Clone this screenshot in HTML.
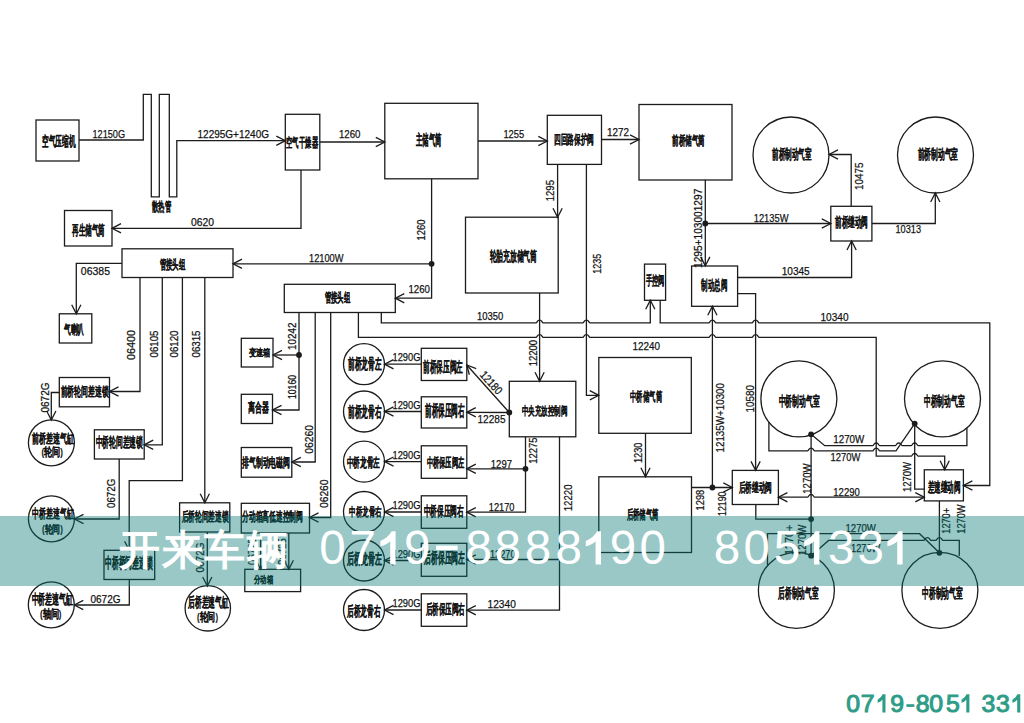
<!DOCTYPE html>
<html><head><meta charset="utf-8">
<style>
html,body{margin:0;padding:0;background:#fff;}
body{width:1024px;height:723px;overflow:hidden;position:relative;font-family:"Liberation Sans",sans-serif;}
svg{position:absolute;left:0;top:0;}
.d path,.d rect,.d circle{fill:none;stroke:#1c1c1c;stroke-width:1.3;}
text.n{font-family:"Liberation Sans",sans-serif;fill:#111;stroke:#111;stroke-width:0.25px;}
text.c{font-family:"Liberation Sans",sans-serif;font-weight:900;fill:#111;stroke:#111;stroke-width:0.12px;}
#band{position:absolute;left:0;top:516px;width:1024px;height:70px;background:rgba(0,118,114,0.4);}
.wm{position:absolute;color:#fff;font-family:"Liberation Sans",sans-serif;white-space:nowrap;}
#ph{position:absolute;left:846px;top:686px;font-family:"Liberation Sans",sans-serif;font-weight:bold;color:#2f9c88;font-size:28.5px;letter-spacing:-1.1px;white-space:nowrap;}
</style></head><body>
<svg class="d" width="1024" height="723" viewBox="0 0 1024 723">
<rect x="36" y="120" width="43" height="41"/>
<path d="M79 140 L143.3 140 L143.3 94.3 L151.3 94.3 L151.3 196.8 L159.3 196.8 L159.3 94.3 L169.3 94.3 L169.3 196.8 L176.8 196.8 L176.8 140.7 L285.3 140.7"/>
<path d="M276.3 145.3 L285.3 140.7 L276.3 136.1"/>
<rect x="285.3" y="114.3" width="34.5" height="55.7"/>
<path d="M319.8 142 L384.8 142"/>
<path d="M375.8 146.6 L384.8 142 L375.8 137.4"/>
<rect x="384.8" y="103.3" width="93.2" height="75.5"/>
<path d="M301 170 L301 228.3 L112 228.3"/>
<path d="M121 223.7 L112 228.3 L121 232.9"/>
<rect x="64.5" y="210.5" width="47.5" height="35.5"/>
<path d="M478 141 L547.3 141"/>
<path d="M538.3 145.6 L547.3 141 L538.3 136.4"/>
<rect x="547.3" y="115.3" width="54.2" height="49.1"/>
<path d="M601.5 139.5 L639 139.5"/>
<path d="M630 144.1 L639 139.5 L630 134.9"/>
<rect x="639" y="104.5" width="93" height="75.5"/>
<circle cx="791" cy="155" r="38"/>
<circle cx="935.5" cy="155" r="38"/>
<path d="M705.3 179.8 L705.3 265.9"/>
<path d="M700.7 256.9 L705.3 265.9 L709.9 256.9"/>
<circle cx="705.3" cy="223.5" r="2.9" style="fill:#1c1c1c;stroke:none"/>
<path d="M705.3 223.5 L830.8 223.5"/>
<path d="M821.8 228.1 L830.8 223.5 L821.8 218.9"/>
<rect x="830.8" y="206.3" width="41.1" height="34.7"/>
<path d="M851.2 206.3 L851.2 154.5 L829 154.5"/>
<path d="M838 149.9 L829 154.5 L838 159.1"/>
<path d="M871.9 223.5 L935.3 223.5 L935.3 193"/>
<path d="M939.9 202 L935.3 193 L930.7 202"/>
<rect x="691.6" y="266" width="46" height="40.3"/>
<path d="M737.6 277.5 L851.6 277.5 L851.6 241"/>
<path d="M856.2 250 L851.6 241 L847 250"/>
<rect x="465.5" y="217.2" width="92.7" height="75.8"/>
<path d="M557.6 164.4 L557.6 217.2"/>
<path d="M553 208.2 L557.6 217.2 L562.2 208.2"/>
<path d="M431.6 178.8 L431.6 298.2 L395.3 298.2"/>
<path d="M404.3 293.6 L395.3 298.2 L404.3 302.8"/>
<circle cx="431.6" cy="263.8" r="2.9" style="fill:#1c1c1c;stroke:none"/>
<path d="M431.6 263.8 L233 263.8"/>
<path d="M242 259.2 L233 263.8 L242 268.4"/>
<rect x="122" y="248.8" width="111" height="28.7"/>
<path d="M122 263.3 L76.3 263.3 L76.3 313.8"/>
<path d="M71.7 304.8 L76.3 313.8 L80.9 304.8"/>
<rect x="59.3" y="313.8" width="32.5" height="29.2"/>
<path d="M140 277.5 L140 391.5 L109.5 391.5"/>
<path d="M118.5 386.9 L109.5 391.5 L118.5 396.1"/>
<path d="M162.3 277.5 L162.3 444.8 L144.2 444.8"/>
<path d="M153.2 440.2 L144.2 444.8 L153.2 449.4"/>
<path d="M182.4 277.5 L182.4 480.7 L129.2 480.7 L129.2 550.3"/>
<path d="M124.6 541.3 L129.2 550.3 L133.8 541.3"/>
<path d="M204.8 277.5 L204.8 502.8"/>
<path d="M200.2 493.8 L204.8 502.8 L209.4 493.8"/>
<rect x="59.3" y="377.5" width="50.2" height="29.3"/>
<path d="M59.3 392.5 L51.3 392.5 L51.3 420"/>
<path d="M46.7 411 L51.3 420 L55.9 411"/>
<circle cx="51.4" cy="442.8" r="23"/>
<rect x="94.4" y="429.8" width="49.8" height="29.2"/>
<path d="M119.2 459 L119.2 519 L74.5 519"/>
<path d="M83.5 514.4 L74.5 519 L83.5 523.6"/>
<circle cx="51.4" cy="518.8" r="23"/>
<rect x="104" y="550.3" width="50.7" height="29.2"/>
<path d="M129.3 579.5 L129.3 605 L74.3 605"/>
<path d="M83.3 600.4 L74.3 605 L83.3 609.6"/>
<circle cx="51.3" cy="604.8" r="23"/>
<rect x="179.6" y="502.8" width="50.2" height="29.2"/>
<path d="M207.3 532 L207.3 586"/>
<path d="M202.7 577 L207.3 586 L211.9 577"/>
<circle cx="207.8" cy="608.3" r="22.7"/>
<rect x="241.3" y="338.3" width="31.7" height="28.7"/>
<rect x="241.3" y="394.3" width="31.2" height="29.2"/>
<rect x="284.3" y="284.3" width="111" height="28.2"/>
<path d="M299 312.5 L299 410 L272.5 410"/>
<path d="M281.5 405.4 L272.5 410 L281.5 414.6"/>
<circle cx="299" cy="355" r="2.9" style="fill:#1c1c1c;stroke:none"/>
<path d="M299 355 L273 355"/>
<path d="M282 350.4 L273 355 L282 359.6"/>
<path d="M315.2 312.5 L315.2 462 L291.8 462"/>
<path d="M300.8 457.4 L291.8 462 L300.8 466.6"/>
<rect x="241.3" y="447.5" width="50.5" height="29.7"/>
<path d="M330.7 312.5 L330.7 517.5 L309.5 517.5"/>
<path d="M318.5 512.9 L309.5 517.5 L318.5 522.1"/>
<rect x="241.3" y="503.3" width="68.2" height="29.7"/>
<path d="M260.6 533 L260.6 569.3"/>
<path d="M256 560.3 L260.6 569.3 L265.2 560.3"/>
<path d="M288.8 533 L288.8 569.3"/>
<path d="M284.2 560.3 L288.8 569.3 L293.4 560.3"/>
<rect x="244.8" y="569.3" width="55.8" height="22.3"/>
<path d="M358.4 312.5 L358.4 337.4 L536 337.4 C537.2 337.4 537 334.7 539.6 334.7 C542.2 334.7 542 337.4 543.2 337.4 L582.8 337.4 C584 337.4 583.8 334.7 586.4 334.7 C589 334.7 588.8 337.4 590 337.4 L708.8 337.4 C710 337.4 709.8 334.7 712.4 334.7 C715 334.7 714.8 337.4 716 337.4 L752 337.4 C753.2 337.4 753 334.7 755.6 334.7 C758.2 334.7 758 337.4 759.2 337.4 L876.2 337.4 L876.2 456.2  L911.1 456.2 C912.3 456.2 912.1 453.5 914.7 453.5 C917.3 453.5 917.1 456.2 918.3 456.2 L944.7 456.2 L944.7 469.8"/>
<path d="M940.1 460.8 L944.7 469.8 L949.3 460.8"/>
<path d="M381.3 312.5 L381.3 322.8  L536 322.8 C537.2 322.8 537 320.1 539.6 320.1 C542.2 320.1 542 322.8 543.2 322.8 L582.8 322.8 C584 322.8 583.8 320.1 586.4 320.1 C589 320.1 588.8 322.8 590 322.8 L650.3 322.8 L650.3 300.3"/>
<path d="M654.9 309.3 L650.3 300.3 L645.7 309.3"/>
<path d="M660.2 300.3 L660.2 322.8  L708.8 322.8 C710 322.8 709.8 320.1 712.4 320.1 C715 320.1 714.8 322.8 716 322.8 L752 322.8 C753.2 322.8 753 320.1 755.6 320.1 C758.2 320.1 758 322.8 759.2 322.8 L989.8 322.8 L989.8 485.5 L963.4 485.5"/>
<path d="M972.4 480.9 L963.4 485.5 L972.4 490.1"/>
<rect x="644.5" y="264.1" width="21.1" height="36.2"/>
<path d="M586.4 164.4 L586.4 395.3 L598.8 395.3"/>
<path d="M589.8 399.9 L598.8 395.3 L589.8 390.7"/>
<path d="M539.6 293 L539.6 381.3"/>
<path d="M535 372.3 L539.6 381.3 L544.2 372.3"/>
<rect x="598.8" y="357.5" width="92.5" height="75.8"/>
<rect x="509.3" y="381.3" width="66.5" height="55.5"/>
<circle cx="364" cy="364.2" r="20.5"/>
<path d="M421.3 364.2 L384.5 364.2"/>
<path d="M393.5 359.6 L384.5 364.2 L393.5 368.8"/>
<rect x="421.3" y="348.3" width="45.5" height="32.2"/>
<circle cx="364" cy="411.5" r="20.5"/>
<path d="M421.3 411.5 L384.5 411.5"/>
<path d="M393.5 406.9 L384.5 411.5 L393.5 416.1"/>
<rect x="421.3" y="396.8" width="45.5" height="31.2"/>
<circle cx="364" cy="461.6" r="20.5"/>
<path d="M421.3 461.6 L384.5 461.6"/>
<path d="M393.5 457 L384.5 461.6 L393.5 466.2"/>
<rect x="421.3" y="445.8" width="45.5" height="32.5"/>
<circle cx="364" cy="512" r="20.5"/>
<path d="M421.3 512 L384.5 512"/>
<path d="M393.5 507.4 L384.5 512 L393.5 516.6"/>
<rect x="421.3" y="495.8" width="45.5" height="32.5"/>
<circle cx="364" cy="560.5" r="20.5"/>
<path d="M421.3 560.5 L384.5 560.5"/>
<path d="M393.5 555.9 L384.5 560.5 L393.5 565.1"/>
<rect x="421.3" y="543.3" width="45.5" height="33"/>
<circle cx="364" cy="610" r="20.5"/>
<path d="M421.3 610 L384.5 610"/>
<path d="M393.5 605.4 L384.5 610 L393.5 614.6"/>
<rect x="421.3" y="593.8" width="45.5" height="32.5"/>
<circle cx="509.3" cy="412.5" r="2.9" style="fill:#1c1c1c;stroke:none"/>
<path d="M509.3 412.5 L466.8 365"/>
<path d="M476.23 368.64 L466.8 365 L469.37 374.77"/>
<path d="M509.3 412.5 L466.8 412.3"/>
<path d="M475.8 407.7 L466.8 412.3 L475.8 416.9"/>
<path d="M525.5 436.8 L525.5 512.2 L466.8 512.2"/>
<path d="M475.8 507.6 L466.8 512.2 L475.8 516.8"/>
<circle cx="525.5" cy="468.8" r="2.9" style="fill:#1c1c1c;stroke:none"/>
<path d="M525.5 468.8 L466.8 468.8"/>
<path d="M475.8 464.2 L466.8 468.8 L475.8 473.4"/>
<path d="M559.5 436.8 L559.5 610.2 L466.8 610.2"/>
<path d="M475.8 605.6 L466.8 610.2 L475.8 614.8"/>
<path d="M559.5 559.5 L466.8 559.5"/>
<path d="M475.8 554.9 L466.8 559.5 L475.8 564.1"/>
<path d="M645.5 433.3 L645.5 476.8"/>
<path d="M640.9 467.8 L645.5 476.8 L650.1 467.8"/>
<rect x="598.8" y="476.8" width="92.7" height="75.7"/>
<path d="M691.5 487.5 L732.3 487.5"/>
<path d="M723.3 492.1 L732.3 487.5 L723.3 482.9"/>
<circle cx="712.4" cy="487.5" r="2.9" style="fill:#1c1c1c;stroke:none"/>
<path d="M712.4 487.5 L712.4 306.3"/>
<path d="M717 315.3 L712.4 306.3 L707.8 315.3"/>
<path d="M737.6 293.6 L755.6 293.6 L755.6 470.4"/>
<path d="M751 461.4 L755.6 470.4 L760.2 461.4"/>
<rect x="732.3" y="470.4" width="46.1" height="34.1"/>
<path d="M778.4 497.2 L807.5 497.2 C808.7 497.2 808.5 494.5 811.1 494.5 C813.7 494.5 813.5 497.2 814.7 497.2 L924.3 497.2"/>
<path d="M787.4 492.6 L778.4 497.2 L787.4 501.8"/>
<path d="M915.3 501.8 L924.3 497.2 L915.3 492.6"/>
<circle cx="798.9" cy="398.8" r="38"/>
<circle cx="942.5" cy="398.8" r="38"/>
<circle cx="811.1" cy="434.3" r="2.9" style="fill:#1c1c1c;stroke:none"/>
<circle cx="914.7" cy="423.6" r="2.9" style="fill:#1c1c1c;stroke:none"/>
<path d="M811.1 434.3 L824.7 445.7  L872.6 445.7 C873.8 445.7 873.6 443 876.2 443 C878.8 443 878.6 445.7 879.8 445.7 L895.2 445.7 C896.4 445.7 896.2 443 898.8 443 C901.4 443 901.2 445.7 902.4 445.7 L911.1 445.7 C912.3 445.7 912.1 443 914.7 443 C917.3 443 917.1 445.7 918.3 445.7 L966.9 445.7 L966.9 427.9"/>
<path d="M768.9 422 L768.9 450.8  L807.5 450.8 C808.7 450.8 808.5 448.1 811.1 448.1 C813.7 448.1 813.5 450.8 814.7 450.8 L872.6 450.8 C873.8 450.8 873.6 448.1 876.2 448.1 C878.8 448.1 878.6 450.8 879.8 450.8 L896 450.8 L914.7 423.6"/>
<path d="M914.7 423.6 L914.7 489.2 L924.3 489.2"/>
<path d="M811.1 434.3 L811.1 555.7"/>
<rect x="924.3" y="469.8" width="39.1" height="31.1"/>
<path d="M755.8 504.5 L755.8 519.1 L811.1 519.1"/>
<circle cx="811.1" cy="519.1" r="2.9" style="fill:#1c1c1c;stroke:none"/>
<circle cx="796.4" cy="590.3" r="38"/>
<circle cx="939.9" cy="590.3" r="38"/>
<circle cx="811.1" cy="555.7" r="2.9" style="fill:#1c1c1c;stroke:none"/>
<circle cx="939.4" cy="552.8" r="2.9" style="fill:#1c1c1c;stroke:none"/>
<path d="M939.4 500.9 L939.4 552.8"/>
<path d="M767.5 565.5 L767.5 533.7 L919.6 533.7 L939.4 552.8"/>
<path d="M811.1 555.7 L828.6 540.4  L923.8 540.4 C925 540.4 924.8 537.7 927.4 537.7 C930 537.7 929.8 540.4 931 540.4 L935.8 540.4 C937 540.4 936.8 537.7 939.4 537.7 C942 537.7 941.8 540.4 943 540.4 L959.3 540.4 L959.3 556"/>
<text class="n" x="92.5" y="138" textLength="32.5" lengthAdjust="spacingAndGlyphs" style="font-size:11.5px">12150G</text>
<text class="n" x="197.5" y="138" textLength="71.5" lengthAdjust="spacingAndGlyphs" style="font-size:11.5px">12295G+1240G</text>
<text class="n" x="339" y="138" textLength="21.5" lengthAdjust="spacingAndGlyphs" style="font-size:11.5px">1260</text>
<text class="n" x="191" y="226.3" textLength="23" lengthAdjust="spacingAndGlyphs" style="font-size:11.5px">0620</text>
<text class="n" x="503.4" y="137.6" textLength="20.8" lengthAdjust="spacingAndGlyphs" style="font-size:11.5px">1255</text>
<text class="n" x="607" y="136.3" textLength="22" lengthAdjust="spacingAndGlyphs" style="font-size:11.5px">1272</text>
<text class="n" x="753.7" y="221.9" textLength="34.8" lengthAdjust="spacingAndGlyphs" style="font-size:11.5px">12135W</text>
<text class="n" transform="translate(698.3 268) rotate(-90)" x="0" y="4.14" textLength="79.3" lengthAdjust="spacingAndGlyphs" style="font-size:11.5px">1295+103001297</text>
<text class="n" transform="translate(858.5 190) rotate(-90)" x="0" y="4.14" textLength="27.5" lengthAdjust="spacingAndGlyphs" style="font-size:11.5px">10475</text>
<text class="n" x="895.5" y="233" textLength="25.5" lengthAdjust="spacingAndGlyphs" style="font-size:11.5px">10313</text>
<text class="n" x="781.7" y="275" textLength="28" lengthAdjust="spacingAndGlyphs" style="font-size:11.5px">10345</text>
<text class="n" transform="translate(550 201.3) rotate(-90)" x="0" y="4.14" textLength="21.3" lengthAdjust="spacingAndGlyphs" style="font-size:11.5px">1295</text>
<text class="n" transform="translate(421.3 240.5) rotate(-90)" x="0" y="4.14" textLength="21" lengthAdjust="spacingAndGlyphs" style="font-size:11.5px">1260</text>
<text class="n" x="408.5" y="292.5" textLength="21.5" lengthAdjust="spacingAndGlyphs" style="font-size:11.5px">1260</text>
<text class="n" x="309" y="262" textLength="34.5" lengthAdjust="spacingAndGlyphs" style="font-size:11.5px">12100W</text>
<text class="n" x="80.8" y="274.5" textLength="29.2" lengthAdjust="spacingAndGlyphs" style="font-size:11.5px">06385</text>
<text class="n" transform="translate(130.5 360) rotate(-90)" x="0" y="4.14" textLength="30" lengthAdjust="spacingAndGlyphs" style="font-size:11.5px">06400</text>
<text class="n" transform="translate(154.3 357.5) rotate(-90)" x="0" y="4.14" textLength="27" lengthAdjust="spacingAndGlyphs" style="font-size:11.5px">06105</text>
<text class="n" transform="translate(174.3 357.5) rotate(-90)" x="0" y="4.14" textLength="27" lengthAdjust="spacingAndGlyphs" style="font-size:11.5px">06120</text>
<text class="n" transform="translate(196.3 357.5) rotate(-90)" x="0" y="4.14" textLength="27" lengthAdjust="spacingAndGlyphs" style="font-size:11.5px">06315</text>
<text class="n" transform="translate(45 412.5) rotate(-90)" x="0" y="4.14" textLength="30" lengthAdjust="spacingAndGlyphs" style="font-size:11.5px">0672G</text>
<text class="n" transform="translate(111.3 508) rotate(-90)" x="0" y="4.14" textLength="29.2" lengthAdjust="spacingAndGlyphs" style="font-size:11.5px">0672G</text>
<text class="n" x="90.5" y="603.3" textLength="30" lengthAdjust="spacingAndGlyphs" style="font-size:11.5px">0672G</text>
<text class="n" transform="translate(199.5 572.5) rotate(-90)" x="0" y="4.14" textLength="30" lengthAdjust="spacingAndGlyphs" style="font-size:11.5px">0672G</text>
<text class="n" transform="translate(292 350) rotate(-90)" x="0" y="4.14" textLength="27.5" lengthAdjust="spacingAndGlyphs" style="font-size:11.5px">10242</text>
<text class="n" transform="translate(292 399) rotate(-90)" x="0" y="4.14" textLength="24" lengthAdjust="spacingAndGlyphs" style="font-size:11.5px">10160</text>
<text class="n" transform="translate(308.8 453.8) rotate(-90)" x="0" y="4.14" textLength="28.8" lengthAdjust="spacingAndGlyphs" style="font-size:11.5px">06260</text>
<text class="n" transform="translate(323.8 508) rotate(-90)" x="0" y="4.14" textLength="28.5" lengthAdjust="spacingAndGlyphs" style="font-size:11.5px">06260</text>
<text class="n" transform="translate(252 565) rotate(-90)" x="0" y="4.14" textLength="27" lengthAdjust="spacingAndGlyphs" style="font-size:11.5px">06725</text>
<text class="n" transform="translate(282 565) rotate(-90)" x="0" y="4.14" textLength="27" lengthAdjust="spacingAndGlyphs" style="font-size:11.5px">06725</text>
<text class="n" x="477" y="320.3" textLength="26.3" lengthAdjust="spacingAndGlyphs" style="font-size:11.5px">10350</text>
<text class="n" x="820.5" y="321" textLength="28" lengthAdjust="spacingAndGlyphs" style="font-size:11.5px">10340</text>
<text class="n" transform="translate(597.3 273.8) rotate(-90)" x="0" y="4.14" textLength="20" lengthAdjust="spacingAndGlyphs" style="font-size:11.5px">1235</text>
<text class="n" transform="translate(533 366.3) rotate(-90)" x="0" y="4.14" textLength="26.3" lengthAdjust="spacingAndGlyphs" style="font-size:11.5px">12200</text>
<text class="n" x="632.5" y="350" textLength="27.5" lengthAdjust="spacingAndGlyphs" style="font-size:11.5px">12240</text>
<text class="n" x="392.5" y="361.2" textLength="28" lengthAdjust="spacingAndGlyphs" style="font-size:11.5px">1290G</text>
<text class="n" x="392.5" y="408.5" textLength="28" lengthAdjust="spacingAndGlyphs" style="font-size:11.5px">1290G</text>
<text class="n" x="392.5" y="458.6" textLength="28" lengthAdjust="spacingAndGlyphs" style="font-size:11.5px">1290G</text>
<text class="n" x="392.5" y="509" textLength="28" lengthAdjust="spacingAndGlyphs" style="font-size:11.5px">1290G</text>
<text class="n" x="392.5" y="557.5" textLength="28" lengthAdjust="spacingAndGlyphs" style="font-size:11.5px">1290G</text>
<text class="n" x="392.5" y="607" textLength="28" lengthAdjust="spacingAndGlyphs" style="font-size:11.5px">1290G</text>
<text class="n" transform="translate(491.3 382.5) rotate(48.2)" x="-13.5" y="4.1" textLength="27" lengthAdjust="spacingAndGlyphs" style="font-size:11.5px">12180</text>
<text class="n" x="477.5" y="423" textLength="28" lengthAdjust="spacingAndGlyphs" style="font-size:11.5px">12285</text>
<text class="n" x="490.8" y="467.5" textLength="21.2" lengthAdjust="spacingAndGlyphs" style="font-size:11.5px">1297</text>
<text class="n" x="488.8" y="511.3" textLength="25.7" lengthAdjust="spacingAndGlyphs" style="font-size:11.5px">12170</text>
<text class="n" transform="translate(532.5 463.8) rotate(-90)" x="0" y="4.14" textLength="26.3" lengthAdjust="spacingAndGlyphs" style="font-size:11.5px">12275</text>
<text class="n" transform="translate(567.5 511.3) rotate(-90)" x="0" y="4.14" textLength="26.8" lengthAdjust="spacingAndGlyphs" style="font-size:11.5px">12220</text>
<text class="n" x="490" y="558" textLength="25.5" lengthAdjust="spacingAndGlyphs" style="font-size:11.5px">12270</text>
<text class="n" x="487.5" y="608" textLength="28.3" lengthAdjust="spacingAndGlyphs" style="font-size:11.5px">12340</text>
<text class="n" transform="translate(637.5 463) rotate(-90)" x="0" y="4.14" textLength="20.5" lengthAdjust="spacingAndGlyphs" style="font-size:11.5px">1230</text>
<text class="n" transform="translate(699.4 510.5) rotate(-90)" x="0" y="4.14" textLength="20.8" lengthAdjust="spacingAndGlyphs" style="font-size:11.5px">1298</text>
<text class="n" transform="translate(721.5 516) rotate(-90)" x="0" y="4.14" textLength="24.5" lengthAdjust="spacingAndGlyphs" style="font-size:11.5px">12190</text>
<text class="n" transform="translate(719.6 452.5) rotate(-90)" x="0" y="4.14" textLength="69.5" lengthAdjust="spacingAndGlyphs" style="font-size:11.5px">12135W+10300</text>
<text class="n" transform="translate(749.5 412.5) rotate(-90)" x="0" y="4.14" textLength="27.5" lengthAdjust="spacingAndGlyphs" style="font-size:11.5px">10580</text>
<text class="n" x="833.3" y="495.5" textLength="26.5" lengthAdjust="spacingAndGlyphs" style="font-size:11.5px">12290</text>
<text class="n" x="833.3" y="442.5" textLength="31" lengthAdjust="spacingAndGlyphs" style="font-size:11.5px">1270W</text>
<text class="n" x="830.5" y="460.5" textLength="29.8" lengthAdjust="spacingAndGlyphs" style="font-size:11.5px">1270W</text>
<text class="n" transform="translate(907.2 492) rotate(-90)" x="0" y="4.14" textLength="30" lengthAdjust="spacingAndGlyphs" style="font-size:11.5px">1270W</text>
<text class="n" transform="translate(806.4 493.7) rotate(-90)" x="0" y="4.14" textLength="30.3" lengthAdjust="spacingAndGlyphs" style="font-size:11.5px">1270W</text>
<text class="n" transform="translate(946.1 533.7) rotate(-90)" x="0" y="4.14" textLength="25.8" lengthAdjust="spacingAndGlyphs" style="font-size:11.5px">1270+</text>
<text class="n" transform="translate(961.1 533.7) rotate(-90)" x="0" y="4.14" textLength="29.2" lengthAdjust="spacingAndGlyphs" style="font-size:11.5px">1270W</text>
<text class="n" transform="translate(788.6 555) rotate(-90)" x="0" y="4.14" textLength="30.3" lengthAdjust="spacingAndGlyphs" style="font-size:11.5px">1270+</text>
<text class="n" transform="translate(802.1 555) rotate(-90)" x="0" y="4.14" textLength="30.3" lengthAdjust="spacingAndGlyphs" style="font-size:11.5px">1270W</text>
<text class="n" x="845.5" y="532" textLength="30.3" lengthAdjust="spacingAndGlyphs" style="font-size:11.5px">1270W</text>
<text class="n" x="851" y="551.7" textLength="29.3" lengthAdjust="spacingAndGlyphs" style="font-size:11.5px">1270W</text>
<text class="c" x="42" y="145.53" textLength="33.5" lengthAdjust="spacingAndGlyphs" style="font-size:14.24px">空气压缩机</text>
<text class="c" x="152" y="210.53" textLength="19" lengthAdjust="spacingAndGlyphs" style="font-size:12.71px">散热管</text>
<text class="c" x="286" y="147.03" textLength="32" lengthAdjust="spacingAndGlyphs" style="font-size:13.23px">空气干燥器</text>
<text class="c" x="416" y="144.83" textLength="25.6" lengthAdjust="spacingAndGlyphs" style="font-size:14.79px">主储气筒</text>
<text class="c" x="72" y="235.43" textLength="33" lengthAdjust="spacingAndGlyphs" style="font-size:13.75px">再生储气筒</text>
<text class="c" x="554" y="143.53" textLength="40" lengthAdjust="spacingAndGlyphs" style="font-size:12.71px">四回路保护阀</text>
<text class="c" x="672" y="144.53" textLength="33" lengthAdjust="spacingAndGlyphs" style="font-size:13.23px">前桥储气筒</text>
<text class="c" x="772" y="159.03" textLength="39.5" lengthAdjust="spacingAndGlyphs" style="font-size:14.24px">前桥制动气室</text>
<text class="c" x="917.5" y="159.03" textLength="40.5" lengthAdjust="spacingAndGlyphs" style="font-size:14.24px">前桥制动气室</text>
<text class="c" x="835" y="227.03" textLength="33" lengthAdjust="spacingAndGlyphs" style="font-size:14.24px">前桥继动阀</text>
<text class="c" x="701.4" y="289.75" textLength="25.8" lengthAdjust="spacingAndGlyphs" style="font-size:13.53px">制动总阀</text>
<text class="c" x="489.5" y="260.53" textLength="47.5" lengthAdjust="spacingAndGlyphs" style="font-size:14.24px">轮胎充放储气筒</text>
<text class="c" x="159.5" y="269.14" textLength="25.5" lengthAdjust="spacingAndGlyphs" style="font-size:12.69px">管接头组</text>
<text class="c" x="64" y="334.03" textLength="20" lengthAdjust="spacingAndGlyphs" style="font-size:12.71px">气喇叭</text>
<text class="c" x="60.5" y="395.64" textLength="48" lengthAdjust="spacingAndGlyphs" style="font-size:12.69px">前桥轮间差速锁</text>
<text class="c" x="31.5" y="442.53" textLength="42" lengthAdjust="spacingAndGlyphs" style="font-size:13.23px">前桥差速气缸</text>
<text class="c" x="41.5" y="456.05" textLength="21.5" lengthAdjust="spacingAndGlyphs" style="font-size:11.79px">(轮间)</text>
<text class="c" x="95.5" y="447.03" textLength="47.5" lengthAdjust="spacingAndGlyphs" style="font-size:14.24px">中桥轮间差速锁</text>
<text class="c" x="32" y="517.64" textLength="41.5" lengthAdjust="spacingAndGlyphs" style="font-size:12.69px">中桥差速气缸</text>
<text class="c" x="42" y="532.74" textLength="21" lengthAdjust="spacingAndGlyphs" style="font-size:11.13px">(轮间)</text>
<text class="c" x="105.2" y="568.45" textLength="47.2" lengthAdjust="spacingAndGlyphs" style="font-size:15px">中桥桥间差速锁</text>
<text class="c" x="31.5" y="603.53" textLength="41.5" lengthAdjust="spacingAndGlyphs" style="font-size:14.24px">中桥差速气缸</text>
<text class="c" x="40" y="618.05" textLength="21.5" lengthAdjust="spacingAndGlyphs" style="font-size:11.79px">(轴间)</text>
<text class="c" x="181.5" y="520.53" textLength="47" lengthAdjust="spacingAndGlyphs" style="font-size:12.71px">后桥轮间差速锁</text>
<text class="c" x="188" y="607.03" textLength="40.5" lengthAdjust="spacingAndGlyphs" style="font-size:14.24px">后桥差速气缸</text>
<text class="c" x="197" y="621.05" textLength="21" lengthAdjust="spacingAndGlyphs" style="font-size:11.79px">(轮间)</text>
<text class="c" x="248.5" y="355.65" textLength="21.5" lengthAdjust="spacingAndGlyphs" style="font-size:10.21px">变速箱</text>
<text class="c" x="248" y="412.14" textLength="21" lengthAdjust="spacingAndGlyphs" style="font-size:12.69px">离合器</text>
<text class="c" x="324.5" y="302.14" textLength="25.5" lengthAdjust="spacingAndGlyphs" style="font-size:12.69px">管接头组</text>
<text class="c" x="242" y="467.14" textLength="48" lengthAdjust="spacingAndGlyphs" style="font-size:12.69px">排气制动电磁阀</text>
<text class="c" x="242" y="520.64" textLength="61" lengthAdjust="spacingAndGlyphs" style="font-size:12.69px">分动箱高低速控制阀</text>
<text class="c" x="254" y="583.49" textLength="19" lengthAdjust="spacingAndGlyphs" style="font-size:10.16px">分动箱</text>
<text class="c" x="645.6" y="284.64" textLength="18.8" lengthAdjust="spacingAndGlyphs" style="font-size:12.69px">手控阀</text>
<text class="c" x="630" y="400.53" textLength="32" lengthAdjust="spacingAndGlyphs" style="font-size:12.71px">中桥储气筒</text>
<text class="c" x="521.5" y="414.74" textLength="45.5" lengthAdjust="spacingAndGlyphs" style="font-size:11.64px">中央充放控制阀</text>
<text class="c" x="626.5" y="518.53" textLength="32" lengthAdjust="spacingAndGlyphs" style="font-size:12.71px">后桥储气筒</text>
<text class="c" x="738.8" y="492.24" textLength="33.2" lengthAdjust="spacingAndGlyphs" style="font-size:12.69px">后桥继动阀</text>
<text class="c" x="778.6" y="405.73" textLength="40.8" lengthAdjust="spacingAndGlyphs" style="font-size:13.74px">中桥制动气室</text>
<text class="c" x="924" y="405.73" textLength="40.4" lengthAdjust="spacingAndGlyphs" style="font-size:13.74px">中桥制动气室</text>
<text class="c" x="927.8" y="491.67" textLength="32.6" lengthAdjust="spacingAndGlyphs" style="font-size:14.35px">差速继动阀</text>
<text class="c" x="778.4" y="597.63" textLength="39.8" lengthAdjust="spacingAndGlyphs" style="font-size:14.32px">后桥制动气室</text>
<text class="c" x="922" y="597.63" textLength="40.8" lengthAdjust="spacingAndGlyphs" style="font-size:14.32px">中桥制动气室</text>
<text class="c" x="348" y="368.83" textLength="33.5" lengthAdjust="spacingAndGlyphs" style="font-size:14.93px">前桥龙骨左</text>
<text class="c" x="348" y="416.83" textLength="33.5" lengthAdjust="spacingAndGlyphs" style="font-size:14.93px">前桥龙骨右</text>
<text class="c" x="346.5" y="467.14" textLength="33.5" lengthAdjust="spacingAndGlyphs" style="font-size:12.69px">中桥龙骨左</text>
<text class="c" x="349" y="515.64" textLength="32.5" lengthAdjust="spacingAndGlyphs" style="font-size:11.66px">中桥龙骨右</text>
<text class="c" x="346.5" y="563.83" textLength="35" lengthAdjust="spacingAndGlyphs" style="font-size:14.93px">后桥龙骨左</text>
<text class="c" x="347" y="615.53" textLength="33.5" lengthAdjust="spacingAndGlyphs" style="font-size:14.24px">后桥龙骨右</text>
<text class="c" x="423" y="371.82" textLength="40" lengthAdjust="spacingAndGlyphs" style="font-size:14.8px">前桥保压阀左</text>
<text class="c" x="425" y="415.72" textLength="39.5" lengthAdjust="spacingAndGlyphs" style="font-size:16.37px">前桥保压阀右</text>
<text class="c" x="426.5" y="467.03" textLength="37.5" lengthAdjust="spacingAndGlyphs" style="font-size:13.23px">中桥保压阀左</text>
<text class="c" x="423.5" y="515.53" textLength="40" lengthAdjust="spacingAndGlyphs" style="font-size:14.24px">中桥保压阀右</text>
<text class="c" x="424" y="563.32" textLength="41" lengthAdjust="spacingAndGlyphs" style="font-size:14.8px">后桥保压阀左</text>
<text class="c" x="425.5" y="614.03" textLength="39.5" lengthAdjust="spacingAndGlyphs" style="font-size:14.24px">后桥保压阀右</text>
</svg>
<div id="band"></div>
<div class="wm" id="w1" style="left:119px;top:523px;font-size:41px;letter-spacing:1.7px;-webkit-text-stroke:1.3px #fff;">开来车辆</div>
<svg width="1024" height="723" style="position:absolute;left:0;top:0" viewBox="0 0 1024 723">
<text x="319.3" y="564.3" style="font-family:Liberation Sans,sans-serif;font-size:47.5px" fill="#fff">0</text>
<text x="349.6" y="564.3" style="font-family:Liberation Sans,sans-serif;font-size:47.5px" fill="#fff">7</text>
<text x="403.9" y="564.3" style="font-family:Liberation Sans,sans-serif;font-size:47.5px" fill="#fff">9</text>
<text x="465.4" y="564.3" style="font-family:Liberation Sans,sans-serif;font-size:47.5px" fill="#fff">8</text>
<text x="494.5" y="564.3" style="font-family:Liberation Sans,sans-serif;font-size:47.5px" fill="#fff">8</text>
<text x="524.7" y="564.3" style="font-family:Liberation Sans,sans-serif;font-size:47.5px" fill="#fff">8</text>
<text x="555.5" y="564.3" style="font-family:Liberation Sans,sans-serif;font-size:47.5px" fill="#fff">8</text>
<text x="609.7" y="564.3" style="font-family:Liberation Sans,sans-serif;font-size:47.5px" fill="#fff">9</text>
<text x="639.5" y="564.3" style="font-family:Liberation Sans,sans-serif;font-size:47.5px" fill="#fff">0</text>
<text x="713.7" y="564.3" style="font-family:Liberation Sans,sans-serif;font-size:47.5px" fill="#fff">8</text>
<text x="743.5" y="564.3" style="font-family:Liberation Sans,sans-serif;font-size:47.5px" fill="#fff">0</text>
<text x="773.8" y="564.3" style="font-family:Liberation Sans,sans-serif;font-size:47.5px" fill="#fff">5</text>
<text x="828.1" y="564.3" style="font-family:Liberation Sans,sans-serif;font-size:47.5px" fill="#fff">3</text>
<text x="857.6" y="564.3" style="font-family:Liberation Sans,sans-serif;font-size:47.5px" fill="#fff">3</text>
<path fill="#fff" d="M395.6 531.3 L395.6 564.5 L390.2 564.5 L390.2 541.3 L390.2 541.3 Q386.7 544.8 380.4 546.3 L380.4 540.9 L380.4 540.9 Q388.2 537.8 391.7 531.3 Z"/>
<path fill="#fff" d="M601 531.3 L601 564.5 L595.6 564.5 L595.6 541.3 L595.6 541.3 Q592.1 544.8 585.8 546.3 L585.8 540.9 L585.8 540.9 Q593.6 537.8 597.1 531.3 Z"/>
<path fill="#fff" d="M819.4 531.3 L819.4 564.5 L814 564.5 L814 541.3 L814 541.3 Q810.5 544.8 804.2 546.3 L804.2 540.9 L804.2 540.9 Q812 537.8 815.5 531.3 Z"/>
<path fill="#fff" d="M902.6 531.3 L902.6 564.5 L897.2 564.5 L897.2 541.3 L897.2 541.3 Q893.7 544.8 887.4 546.3 L887.4 540.9 L887.4 540.9 Q895.2 537.8 898.7 531.3 Z"/>
<rect x="436.1" y="545.6" width="21.5" height="4.4" fill="#fff"/>
</svg>
<svg width="1024" height="723" style="position:absolute;left:0;top:0" viewBox="0 0 1024 723">
<text x="846.3" y="711.8" style="font-family:Liberation Sans,sans-serif;font-size:24.8px;fill:#2f9c88;stroke:#2f9c88;stroke-width:1.05px">0</text>
<text x="860.8" y="711.8" style="font-family:Liberation Sans,sans-serif;font-size:24.8px;fill:#2f9c88;stroke:#2f9c88;stroke-width:1.05px">7</text>
<text x="890.3" y="711.8" style="font-family:Liberation Sans,sans-serif;font-size:24.8px;fill:#2f9c88;stroke:#2f9c88;stroke-width:1.05px">9</text>
<text x="915.8" y="711.8" style="font-family:Liberation Sans,sans-serif;font-size:24.8px;fill:#2f9c88;stroke:#2f9c88;stroke-width:1.05px">8</text>
<text x="929.3" y="711.8" style="font-family:Liberation Sans,sans-serif;font-size:24.8px;fill:#2f9c88;stroke:#2f9c88;stroke-width:1.05px">0</text>
<text x="946" y="711.8" style="font-family:Liberation Sans,sans-serif;font-size:24.8px;fill:#2f9c88;stroke:#2f9c88;stroke-width:1.05px">5</text>
<text x="981.6" y="711.8" style="font-family:Liberation Sans,sans-serif;font-size:24.8px;fill:#2f9c88;stroke:#2f9c88;stroke-width:1.05px">3</text>
<text x="996.1" y="711.8" style="font-family:Liberation Sans,sans-serif;font-size:24.8px;fill:#2f9c88;stroke:#2f9c88;stroke-width:1.05px">3</text>
<path fill="#2f9c88" d="M885.5 694.2 L885.5 712.6 L882.4 712.6 L882.4 699.72 Q880.48 701.93 877.6 702.85 L877.6 699.72 Q880.96 697.88 882.7 694.2 Z"/>
<path fill="#2f9c88" d="M969.4 694.2 L969.4 712.6 L966.3 712.6 L966.3 699.72 Q964.38 701.93 961.5 702.85 L961.5 699.72 Q964.86 697.88 966.6 694.2 Z"/>
<path fill="#2f9c88" d="M1020.3 694.2 L1020.3 712.6 L1017.2 712.6 L1017.2 699.72 Q1015.28 701.93 1012.4 702.85 L1012.4 699.72 Q1015.76 697.88 1017.5 694.2 Z"/>
<rect x="906.4" y="704.2" width="7.9" height="2.7" fill="#2f9c88"/>
</svg>
</body></html>
